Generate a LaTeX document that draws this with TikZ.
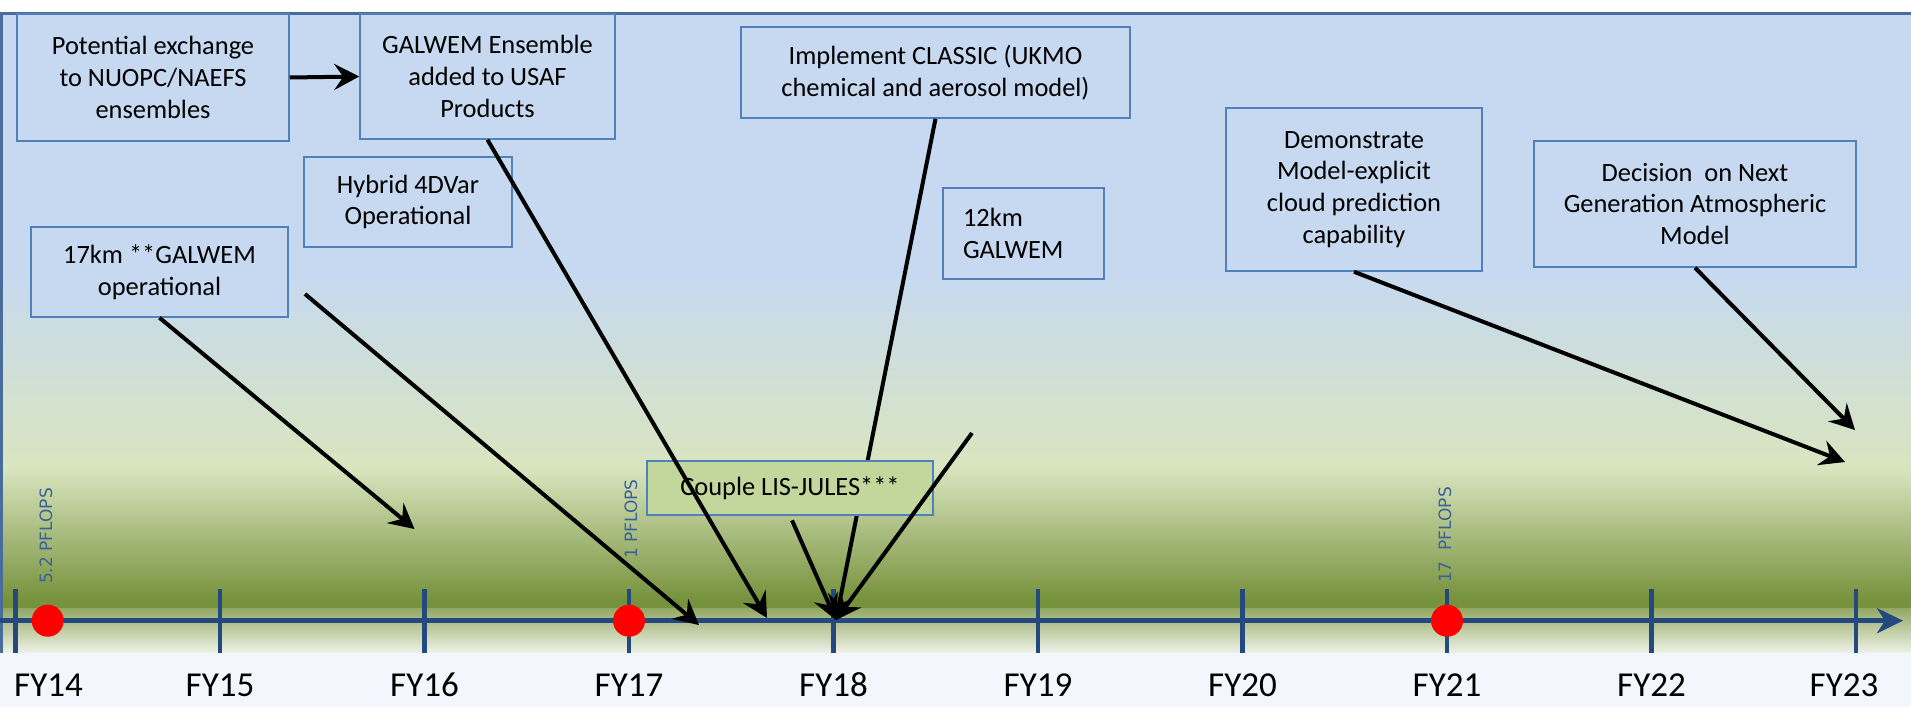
\documentclass[tikz,border=0pt]{standalone}
\usepackage{fontspec}
\setmainfont{Carlito}
\newfontfamily\flopsfont{DejaVu Sans}
\usetikzlibrary{arrows.meta}
\tikzset {>={Stealth[length=25pt,width=26pt,inset=9pt]}}

\definecolor{skyblue}{HTML}{C6D9F1}
\definecolor{palegreen}{HTML}{D9E5BF}
\definecolor{olive}{HTML}{76923C}
\definecolor{leafgreen}{HTML}{C3D69B}
\definecolor{boxblue}{HTML}{4F81BD}
\definecolor{axisblue}{HTML}{23497E}
\definecolor{frameblue}{HTML}{4A6C9B}
\definecolor{flopsblue}{HTML}{3A6198}
\definecolor{floor}{HTML}{F3F6FC}

\tikzset{
  milestone/.style={draw=boxblue,line width=1.5pt,fill=skyblue,inner sep=0pt,
    align=center,font=\fontsize{26.4}{31.7}\selectfont},
  pointer/.style={->,line width=4pt,black},
  flops/.style={rotate=90,text=flopsblue,font=\flopsfont\fontsize{17}{17}\selectfont},
  year/.style={font=\fontsize{35}{40}\selectfont}
}

\begin{document}
\begin{tikzpicture}[x=1pt,y=-1pt]
\useasboundingbox (0,0) rectangle (1911,707);
\fill[white] (0,0) rectangle (1911,707);
\fill[skyblue] (0,14) rectangle (1911,270);
\shade[top color=skyblue,bottom color=palegreen] (0,270) rectangle (1911,468);
\shade[top color=palegreen,bottom color=olive] (0,468) rectangle (1911,600);
\fill[olive] (0,599) rectangle (1911,608);
\shade[top color=olive!80!white,bottom color=olive!12!white] (0,608) rectangle (1911,653);
\fill[floor] (0,653) rectangle (1911,707);
\draw[frameblue,line width=3pt] (0,13.5) -- (1911,13.5);
\draw[frameblue,line width=3pt] (1.5,13.5) -- (1.5,653);

% time line
\coordinate (axisstart) at (0,620.7);
\coordinate (axisend) at (1903,620.7);
\draw[axisblue,line width=5pt,-{Stealth[length=26pt,width=25pt,inset=8pt]}]
  (axisstart) -- (axisend);
\foreach \yr/\dx [count=\i from 0] in {14/33,15/0,16/0,17/0,18/0,19/0,20/0,21/0,22/0,23/-12}{
  \draw[axisblue,line width=4.5pt] (15.5+204.5*\i,589) -- (15.5+204.5*\i,652.5);
  \node[year] (fy\yr) at (15.5+204.5*\i+\dx,685) {FY\yr};
}

\foreach \pt/\x in {a/47.7,b/629,c/1447}
  \fill[red] (\x,620.7) coordinate (dot\pt) circle[radius=16pt];

\node[flops] (flopsa) at (46,536) {5.2 PFLOPS};
\node[flops] (flopsb) at (631,519) {1 PFLOPS};
\node[flops] (flopsc) at (1445,535) {17\ \ PFLOPS};

% milestones
\node[milestone,minimum width=272pt,minimum height=127pt] (potential) at (153,77.5)
  {Potential exchange\\to NUOPC/NAEFS\\ensembles};
\node[milestone,minimum width=255pt,minimum height=125pt] (galwem) at (487.5,76.5)
  {GALWEM Ensemble\\added to USAF\\Products};
\node[milestone,minimum width=208pt,minimum height=90pt] (hybrid) at (408,202)
  {Hybrid 4DVar\\Operational};
\node[milestone,minimum width=257pt,minimum height=90pt] (km17) at (159.5,272)
  {17km **GALWEM\\operational};
\node[milestone,minimum width=389pt,minimum height=91pt] (classic) at (935.5,72.5)
  {Implement CLASSIC (UKMO\\chemical and aerosol model)};
\node[milestone,minimum width=161pt,minimum height=91pt,text width=121pt,align=left] (km12)
  at (1023.5,233.5) {12km\\GALWEM};
\node[milestone,minimum width=256pt,minimum height=163pt] (demo) at (1354,189.5)
  {Demonstrate\\Model-explicit\\cloud prediction\\capability};
\node[milestone,minimum width=322pt,minimum height=126pt] (decision) at (1695,204)
  {Decision~~on Next\\Generation Atmospheric\\Model};

\coordinate (fy18hit) at (836,620);
\draw[pointer] (classic.south) -- (fy18hit);

\node[milestone,fill=leafgreen,minimum width=286pt,minimum height=54pt] (couple)
  at (790,488) {Couple LIS-JULES***};

\coordinate (hybridtail) at (305,294);
\coordinate (hybridhit) at (699,625);
\coordinate (km17hit) at (414.5,529);
\coordinate (galwemhit) at (767,618);
\coordinate (km12tail) at (972,433);
\coordinate (demohit) at (1845,462);
\coordinate (decisionhit) at (1855,430);

\draw[pointer] (potential.east) -- (galwem.west);
\draw[pointer] (km17.south) -- (km17hit);
\draw[pointer] (hybridtail) -- (hybridhit);
\draw[pointer] (galwem.south) -- (galwemhit);
\draw[pointer,shorten <=5pt] (couple.south) -- (fy18hit);
\draw[pointer] (km12tail) -- (fy18hit);
\draw[pointer] (demo.south) -- (demohit);
\draw[pointer] (decision.south) -- (decisionhit);
\end{tikzpicture}
\end{document}
